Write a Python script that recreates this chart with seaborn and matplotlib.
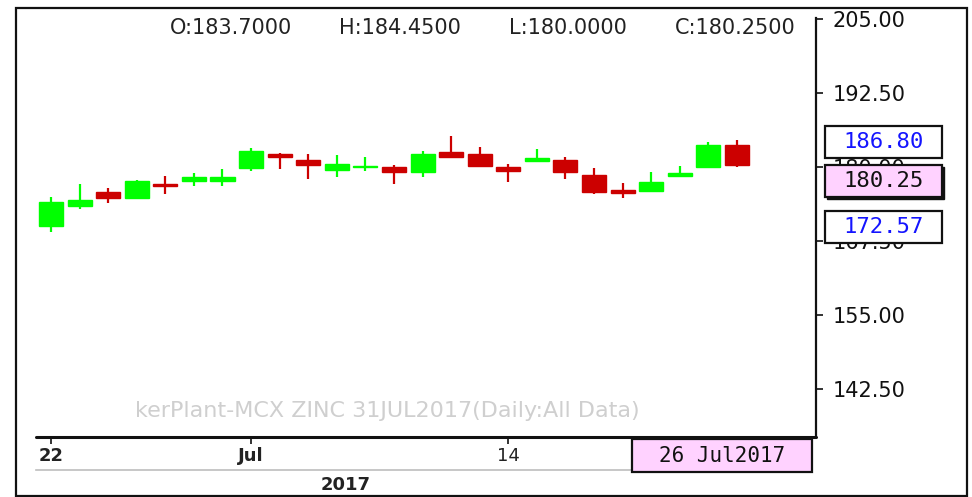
import matplotlib
matplotlib.use("Agg")
import numpy as np
import pandas as pd
import matplotlib.pyplot as plt
import seaborn as sns
from matplotlib.patches import Rectangle
from matplotlib.transforms import Bbox, TransformedBbox

#%% data (MCX ZINC 31JUL2017, daily)
dates = ['2017-06-22', '2017-06-23', '2017-06-26', '2017-06-27', '2017-06-28',
         '2017-06-29', '2017-06-30', '2017-07-03', '2017-07-04', '2017-07-05',
         '2017-07-06', '2017-07-07', '2017-07-10', '2017-07-11', '2017-07-12',
         '2017-07-13', '2017-07-14', '2017-07-17', '2017-07-18', '2017-07-19',
         '2017-07-20', '2017-07-21', '2017-07-24', '2017-07-25', '2017-07-26']
opens = [170.05, 173.3, 175.8, 174.7, 177.0, 177.6, 177.6, 179.7, 182.2, 181.2,
         179.4, 179.95, 180.0, 179.05, 182.5, 182.2, 180.0, 180.9, 181.1, 178.6,
         176.1, 175.85, 178.5, 179.9, 183.7]
highs = [174.9, 177.0, 176.35, 177.7, 178.4, 178.9, 179.55, 183.1, 182.3, 182.1,
         182.0, 181.6, 180.25, 182.7, 185.15, 183.35, 180.45, 183.0, 181.7, 179.8,
         177.3, 179.15, 180.15, 184.1, 184.45]
lows = [168.9, 172.8, 173.8, 174.6, 175.3, 176.7, 176.7, 179.3, 179.6, 177.9,
        178.2, 179.3, 177.1, 178.2, 181.5, 180.0, 177.35, 180.8, 177.9, 175.35,
        174.7, 175.7, 178.2, 179.8, 180.0]
closes = [174.0, 174.3, 174.7, 177.6, 176.8, 178.3, 178.25, 182.6, 181.6, 180.2,
          180.4, 180.05, 179.05, 182.2, 181.6, 180.05, 179.3, 181.4, 179.05, 175.8,
          175.5, 177.45, 179.0, 183.6, 180.25]

yticks = [142.5, 155.0, 167.5, 180.0, 192.5, 205.0]
tick_dates = ['2017-06-22', '2017-07-03', '2017-07-14']
tick_labels = ['22', 'Jul', '14']
tick_bold = [True, True, False]
year_label = '2017'
side_levels = [186.80, 172.57]
watermark = 'kerPlant-MCX ZINC 31JUL2017(Daily:All Data)'

#%% frame
df = pd.DataFrame({'date': pd.to_datetime(dates), 'open': opens, 'high': highs,
                   'low': lows, 'close': closes})
df['pos'] = np.arange(len(df))
df['up'] = df['close'] >= df['open']

W, H = 972, 497
sns.set_style("white")
plt.rcParams['font.family'] = ['DejaVu Sans']

fig = plt.figure(figsize=(W / 100, H / 100), dpi=100)

def fx(x):
    return x / W

def fy(y):
    return 1 - y / H

GREEN = '#00ff00'
RED = '#cc0000'

# main price axes
ax = fig.add_axes([fx(16), fy(437), fx(800), (437 - 8) / H])
step = 28.583
xmin = -35 / step
xmax = xmin + 800 / step
ax.set_xlim(xmin, xmax)
ax.set_ylim(134.34, 206.8)

colors = np.where(df['up'], GREEN, RED)
ax.vlines(df['pos'], df['low'], df['high'], colors=colors, lw=1.6, zorder=2)
ax.bar(df['pos'], (df['close'] - df['open']).abs(),
       bottom=df[['open', 'close']].min(axis=1), width=0.84,
       color=colors, edgecolor=colors, linewidth=1.0, zorder=3)

sns.despine(ax=ax, left=True, top=True, bottom=True, right=False)
ax.spines['right'].set_linewidth(1.6)
ax.spines['right'].set_color('#111111')
ax.spines['right'].set_bounds(134.34, 205.1)
ax.set_xticks([])
ax.yaxis.tick_right()
ax.set_yticks(yticks)
ax.set_yticklabels([f'{v:.2f}' for v in yticks])
ax.tick_params(axis='y', direction='out', length=5, width=1.2, pad=7,
               labelsize=15, colors='#111111', right=True, left=False)
ax.set_facecolor('white')

# watermark, clipped on the left like the original
wm = ax.text(fx(640 - 16) / fx(800), (437 - 411) / (437 - 8), watermark,
             transform=ax.transAxes, ha='right', va='center', fontsize=16,
             color='#cfcfcf', clip_on=True, zorder=1)
wm.set_clip_box(TransformedBbox(Bbox([[fx(36), 0], [1, 1]]), fig.transFigure))

# OHLC header for last bar
last = df.iloc[-1]
header = [f"O:{last['open']:.4f}", f"H:{last['high']:.4f}",
          f"L:{last['low']:.4f}", f"C:{last['close']:.4f}"]
for cx, txt in zip([231, 400, 568, 735], header):
    fig.text(fx(cx), fy(28), txt, ha='center', va='center', fontsize=15,
             color='#222222')

# date band under the plot
axb = fig.add_axes([fx(36), fy(470), fx(600), 33 / H])
axb.set_xlim(xmin + 20 / step, xmin + 620 / step)
axb.set_ylim(0, 1)
axb.set_yticks([])
pos_of = {d: p for d, p in zip(dates, df['pos'])}
tpos = [pos_of[d] for d in tick_dates]
axb.set_xticks(tpos)
axb.tick_params(axis='x', top=True, bottom=False, direction='in', length=5,
                width=1.2, labelbottom=False, labeltop=False, colors='#111111')
for s in ['left', 'right', 'top']:
    axb.spines[s].set_visible(False)
axb.spines['bottom'].set_linewidth(1.2)
axb.spines['bottom'].set_color('#bdbdbd')
for p, lab, b in zip(tpos, tick_labels, tick_bold):
    axb.text(p, 0.42, lab, ha='center', va='center', fontsize=13,
             fontweight='bold' if b else 'normal', color='#222222', clip_on=True)
axb.text(10.3, -0.45, year_label, ha='center', va='center', fontsize=13,
         fontweight='bold', color='#222222', clip_on=False)

# dark baseline of the date band, from the band start to the price scale
fig.add_artist(plt.Line2D([fx(36), fx(816)], [fy(437), fy(437)],
                          transform=fig.transFigure, lw=2.2, color='#111111'))

# outer frame
fig.add_artist(Rectangle((fx(16), fy(496)), fx(951), (496 - 8) / H,
                         transform=fig.transFigure, fill=False,
                         lw=1.6, edgecolor='#111111'))

# value boxes on the price scale (box top sits on the level)
fig.canvas.draw()
def level_box(level, text, face, tcolor, shadow=False):
    top = ax.transData.transform((0, level))[1] / H
    bw, bh = fx(117), 32 / H
    x0 = fx(825)
    if shadow:
        fig.add_artist(Rectangle((x0 + fx(2), top - bh - 2 / H), bw, bh,
                                 transform=fig.transFigure, facecolor='#111111',
                                 edgecolor='#111111', lw=1, zorder=4))
    fig.add_artist(Rectangle((x0, top - bh), bw, bh, transform=fig.transFigure,
                             facecolor=face, edgecolor='#111111', lw=1.6, zorder=5))
    fig.text(x0 + bw / 2, top - bh / 2, text, ha='center', va='center',
             fontsize=16, family='DejaVu Sans Mono', color=tcolor, zorder=6)

level_box(side_levels[0], f'{side_levels[0]:.2f}', 'white', '#1414ff')
level_box(last['close'], f"{last['close']:.2f}", '#ffd2ff', '#111111', shadow=True)
level_box(side_levels[1], f'{side_levels[1]:.2f}', 'white', '#1414ff')

# current date box
date_txt = last['date'].strftime('%d %b%Y')
fig.add_artist(Rectangle((fx(632), fy(472)), fx(180), 33 / H,
                         transform=fig.transFigure, facecolor='#ffd2ff',
                         edgecolor='#111111', lw=1.6, zorder=5))
fig.text(fx(722), fy(456), date_txt, ha='center', va='center', fontsize=15,
         family='DejaVu Sans Mono', color='#111111', zorder=6)

fig.savefig('out.png', dpi=100)
